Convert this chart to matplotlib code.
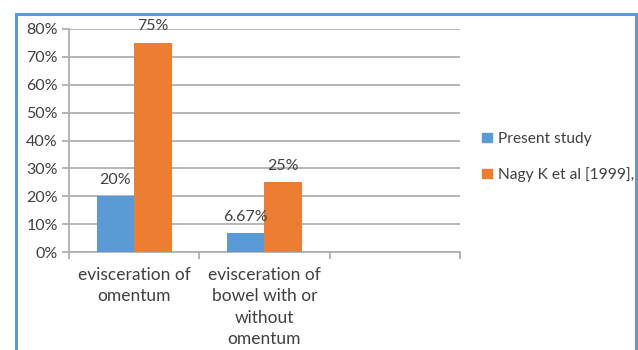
import matplotlib
matplotlib.use("Agg")
import matplotlib.pyplot as plt
from matplotlib.patches import Rectangle, Patch
import numpy as np

plt.rcParams['font.family'] = ['Lato', 'DejaVu Sans']

categories = ["evisceration of\nomentum", "evisceration of\nbowel with or\nwithout\nomentum", ""]
series_names = ["Present study", "Nagy K et al [1999],"]
present = [20, 6.67, None]
nagy = [75, 25, None]
present_labels = ["20%", "6.67%", ""]
nagy_labels = ["75%", "25%", ""]
yticks = [0, 10, 20, 30, 40, 50, 60, 70, 80]

blue = "#5B9BD5"
orange = "#ED7D31"
grid = "#B0B0B0"
text_col = "#404040"

fig = plt.figure(figsize=(6.38, 3.5), dpi=100)
W, H = 638, 350
ax = fig.add_axes([69 / W, (H - 252) / H, (460 - 69) / W, (252 - 29) / H])

x = np.arange(len(categories))
bw = 0.288
for i in range(len(categories)):
    if present[i] is None:
        continue
    ax.bar(x[i] - bw / 2, present[i], bw, color=blue, zorder=3)
    ax.bar(x[i] + bw / 2, nagy[i], bw, color=orange, zorder=3)
    ax.text(x[i] - bw / 2, present[i] + 6, present_labels[i], ha="center", va="center",
            fontsize=11.5, color=text_col)
    ax.text(x[i] + bw / 2, nagy[i] + 6, nagy_labels[i], ha="center", va="center",
            fontsize=11.5, color=text_col)

ax.set_xlim(-0.5, len(categories) - 0.5)
ax.set_ylim(0, 80)
ax.set_yticks(yticks)
ax.set_yticklabels([f"{v}%" for v in yticks], fontsize=11.5, color=text_col)
ax.yaxis.grid(True, color=grid, linewidth=1.3, zorder=0)
ax.tick_params(axis="y", length=5, color=grid, width=1.3, pad=3)

ax.set_xticks(x)
ax.set_xticklabels(categories, fontsize=12.5, color=text_col, linespacing=1.4)
ax.set_xticks(np.arange(len(categories) + 1) - 0.5, minor=True)
ax.tick_params(axis="x", which="major", length=0, pad=11)
ax.tick_params(axis="x", which="minor", length=5, color=grid, width=1.3)

for s in ["top", "right"]:
    ax.spines[s].set_visible(False)
for s in ["left", "bottom"]:
    ax.spines[s].set_color(grid)
    ax.spines[s].set_linewidth(1.3)

handles = [Patch(color=blue), Patch(color=orange)]
leg = fig.legend(handles, series_names, loc="center left", bbox_to_anchor=(476 / W, 1 - 157 / H),
                 frameon=False, fontsize=11.2, handlelength=0.6, handleheight=0.6,
                 handletextpad=0.4, labelspacing=1.35, borderaxespad=0)
for t in leg.get_texts():
    t.set_color(text_col)

# outer chart border (bottom edge is outside the image)
fig.patches.append(Rectangle((16 / W, -0.05), (636 - 16) / W, 1.05 - 14 / H,
                             transform=fig.transFigure, fill=False,
                             edgecolor=blue, linewidth=2.2, zorder=10))

fig.savefig("out.png", dpi=100)
